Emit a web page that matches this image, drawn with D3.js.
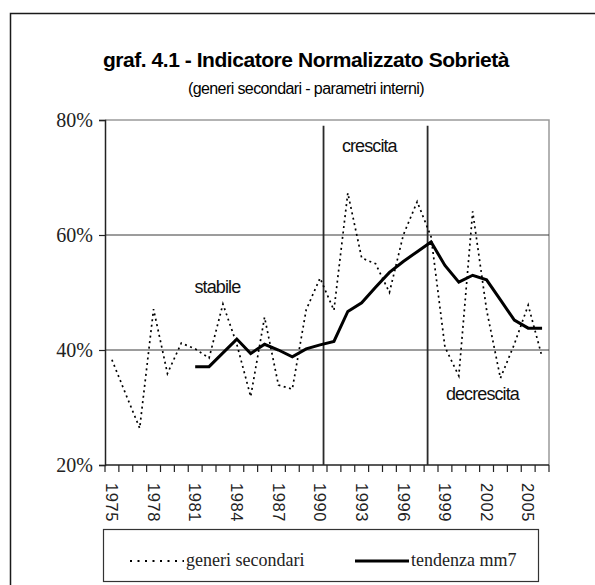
<!DOCTYPE html>
<html>
<head>
<meta charset="utf-8">
<script src="https://cdn.jsdelivr.net/npm/d3@7"></script>
<style>
  body { margin: 0; background: #fff; }
  svg { display: block; }
</style>
</head>
<body>
<div id="chart"></div>
<script>
// anni e valori
const years = d3.range(1975, 2007);
const generiSecondari = [
  38.3, 32.3, 26.4, 47.1, 35.9, 41.2, 40.2, 38.6, 48.0, 41.0,
  31.9, 45.7, 33.9, 33.2, 47.0, 52.5, 46.9, 67.3, 56.0, 55.0,
  50.0, 60.0, 65.8, 59.7, 40.5, 35.5, 64.1, 47.0, 35.1, 41.0,
  47.8, 38.8
];
const trendYears = d3.range(1981, 2007);
const tendenzaMm7 = [
  37.1, 37.1, 39.5, 41.9, 39.4, 41.0, 40.0, 38.8, 40.2, 40.9,
  41.5, 46.7, 48.2, 50.9, 53.5, 55.4, 57.1, 58.8, 54.7, 51.8,
  53.0, 52.2, 48.7, 45.2, 43.8, 43.8
];
const yTicks = [20, 40, 60, 80];
const gridValues = [40, 60];
const xLabelYears = d3.range(1975, 2006, 3);
const phaseBreaks = [1990.25, 1997.75];
const phaseLabels = [
  {text: 'stabile', year: 1982.6, value: 49.9},
  {text: 'crescita', year: 1993.55, value: 74.5},
  {text: 'decrescita', year: 2001.7, value: 31.3}
];

const width = 595, height = 585;
const plot = {left: 105, right: 549, top: 120, bottom: 465};

const svg = d3.select('#chart')
  .append('svg')
  .attr('width', width)
  .attr('height', height);

// cornice esterna
svg.append('rect')
  .attr('x', 10.5).attr('y', 13.5)
  .attr('width', 620).attr('height', 620)
  .attr('fill', 'none')
  .attr('stroke', '#1a1a1a')
  .attr('stroke-width', 1.5);

// titolo
svg.append('text')
  .attr('x', 306).attr('y', 67)
  .attr('text-anchor', 'middle')
  .style('font-family', 'Liberation Sans, Arial, sans-serif')
  .style('font-weight', 'bold')
  .style('font-size', '21px')
  .style('letter-spacing', '-0.45px')
  .text('graf. 4.1 - Indicatore Normalizzato Sobrietà');

svg.append('text')
  .attr('x', 306).attr('y', 94)
  .attr('text-anchor', 'middle')
  .style('font-family', 'Liberation Sans, Arial, sans-serif')
  .style('font-size', '16px')
  .style('letter-spacing', '-0.6px')
  .text('(generi secondari - parametri interni)');

const x = d3.scaleBand()
  .domain(years)
  .range([plot.left, plot.right])
  .padding(0);

const y = d3.scaleLinear()
  .domain([20, 80])
  .range([plot.bottom, plot.top]);

const xc = yr => x(yr) + x.bandwidth() / 2;
// posizione per anni frazionari
const xf = v => {
  const base = Math.floor(v);
  return xc(base) + (v - base) * x.bandwidth();
};

// bordo area del grafico (alto e destra grigi)
svg.append('path')
  .attr('d', `M${plot.left},${plot.top}H${plot.right}V${plot.bottom}`)
  .attr('fill', 'none')
  .attr('stroke', '#9a9a9a')
  .attr('stroke-width', 1.5);

// griglia
svg.append('g')
  .selectAll('line')
  .data(gridValues)
  .enter().append('line')
    .attr('x1', plot.left).attr('x2', plot.right)
    .attr('y1', d => y(d)).attr('y2', d => y(d))
    .attr('stroke', '#3a3a3a')
    .attr('stroke-width', 1);

// asse y
const yAxis = svg.append('g')
  .attr('transform', `translate(${plot.left},0)`)
  .call(d3.axisLeft(y).tickValues(yTicks).tickSize(6).tickFormat(d => d + '%'));
yAxis.select('.domain').attr('stroke', '#222').attr('stroke-width', 1.5);
yAxis.selectAll('.tick line').attr('stroke', '#222').attr('stroke-width', 1.2);
yAxis.selectAll('.tick text')
  .attr('x', -12)
  .style('font-family', 'Liberation Serif, Times New Roman, serif')
  .style('font-size', '20px')
  .attr('fill', '#222');

// asse x
const xAxis = svg.append('g')
  .attr('transform', `translate(0,${plot.bottom})`);
xAxis.append('line')
  .attr('x1', plot.left).attr('x2', plot.right)
  .attr('stroke', '#222').attr('stroke-width', 1.5);
xAxis.selectAll('line.tk')
  .data(years.concat([years[years.length - 1] + 1]))
  .enter().append('line')
    .attr('class', 'tk')
    .attr('x1', (d, i) => i < years.length ? x(d) : plot.right)
    .attr('x2', (d, i) => i < years.length ? x(d) : plot.right)
    .attr('y1', 0).attr('y2', 7)
    .attr('stroke', '#222').attr('stroke-width', 1.2);
xAxis.selectAll('text')
  .data(xLabelYears)
  .enter().append('text')
    .attr('transform', d => `translate(${xc(d)},18) rotate(90)`)
    .attr('dy', '0.35em')
    .style('font-family', 'Liberation Sans, Arial, sans-serif')
    .style('font-size', '16.5px')
    .style('letter-spacing', '0.6px')
    .attr('fill', '#222')
    .text(d => d);

// linee di fase
svg.append('g')
  .selectAll('line')
  .data(phaseBreaks)
  .enter().append('line')
    .attr('x1', d => xf(d)).attr('x2', d => xf(d))
    .attr('y1', y(79)).attr('y2', plot.bottom)
    .attr('stroke', '#2a2a2a')
    .attr('stroke-width', 1.8);

// serie tratteggiata
const line = d3.line()
  .x(d => xc(d[0]))
  .y(d => y(d[1]));

svg.append('path')
  .datum(years.map((yr, i) => [yr, generiSecondari[i]]))
  .attr('d', line)
  .attr('fill', 'none')
  .attr('stroke', '#000')
  .attr('stroke-width', 1.7)
  .attr('stroke-dasharray', '2,3.5');

svg.append('path')
  .datum(trendYears.map((yr, i) => [yr, tendenzaMm7[i]]))
  .attr('d', line)
  .attr('fill', 'none')
  .attr('stroke', '#000')
  .attr('stroke-width', 3)
  .attr('stroke-linejoin', 'miter');

// etichette delle fasi
svg.append('g')
  .selectAll('text')
  .data(phaseLabels)
  .enter().append('text')
    .attr('x', d => xf(d.year))
    .attr('y', d => y(d.value))
    .attr('text-anchor', 'middle')
    .style('font-family', 'Liberation Sans, Arial, sans-serif')
    .style('font-size', '18px')
    .style('letter-spacing', '-0.9px')
    .attr('fill', '#111')
    .text(d => d.text);

// legenda
const legend = svg.append('g');
legend.append('rect')
  .attr('x', 103.5).attr('y', 529.5)
  .attr('width', 435).attr('height', 52)
  .attr('fill', '#fff')
  .attr('stroke', '#333')
  .attr('stroke-width', 1.2);

const legendItems = [
  {label: 'generi secondari', dash: '2,5.5', w: 2, x0: 130},
  {label: 'tendenza mm7', dash: null, w: 3, x0: 355}
];
legendItems.forEach(it => {
  legend.append('line')
    .attr('x1', it.x0).attr('x2', it.x0 + 54)
    .attr('y1', 561).attr('y2', 561)
    .attr('stroke', '#000')
    .attr('stroke-width', it.w)
    .attr('stroke-dasharray', it.dash);
  legend.append('text')
    .attr('x', it.x0 + 56).attr('y', 566)
    .style('font-family', 'Liberation Serif, Times New Roman, serif')
    .style('font-size', '18px')
    .attr('fill', '#222')
    .text(it.label);
});
</script>
</body>
</html>
